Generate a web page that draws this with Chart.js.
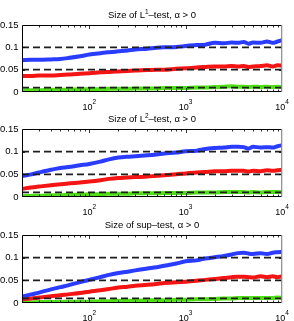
<!DOCTYPE html>
<html><head><meta charset="utf-8">
<script src="https://cdn.jsdelivr.net/npm/chart.js@4"></script>
<style>
html,body{margin:0;padding:0;background:#fff;width:294px;height:321px;overflow:hidden;position:relative}
canvas{position:absolute;left:0}
</style></head><body>
<canvas id="c1" width="294" height="110" style="top:0px"></canvas>
<canvas id="c2" width="294" height="110" style="top:105px"></canvas>
<canvas id="c3" width="294" height="111" style="top:210px"></canvas>
<script>
// ---- data ----
const sampleSizes = [20, 25, 30, 40, 50, 60, 80, 100, 130, 160, 200, 250, 300, 400, 500, 600, 800, 1000, 1300, 1600, 2000, 2500, 3000, 3500, 4000, 4500, 5000, 6000, 7000, 8000, 9000, 10000];

const l1Blue  = [0.071,0.072,0.072,0.073,0.074,0.076,0.080,0.084,0.087,0.089,0.091,0.093,0.095,0.097,0.099,0.100,0.101,0.103,0.105,0.106,0.110,0.109,0.111,0.110,0.112,0.108,0.111,0.110,0.113,0.110,0.113,0.116];
const l1Red   = [0.036,0.036,0.037,0.037,0.038,0.039,0.041,0.042,0.044,0.045,0.046,0.047,0.048,0.049,0.050,0.050,0.052,0.053,0.055,0.056,0.057,0.057,0.058,0.057,0.058,0.056,0.057,0.058,0.060,0.057,0.060,0.059];
const l1Green = [0.004,0.004,0.004,0.005,0.005,0.005,0.006,0.006,0.006,0.007,0.007,0.007,0.008,0.008,0.008,0.009,0.009,0.009,0.010,0.010,0.011,0.012,0.013,0.012,0.012,0.011,0.012,0.011,0.012,0.011,0.012,0.011];

const l2Blue  = [0.046,0.050,0.054,0.060,0.064,0.066,0.070,0.073,0.078,0.083,0.087,0.089,0.090,0.092,0.094,0.096,0.098,0.101,0.102,0.106,0.108,0.109,0.111,0.111,0.110,0.107,0.111,0.109,0.110,0.109,0.112,0.114];
const l2Red   = [0.018,0.021,0.023,0.026,0.028,0.030,0.032,0.034,0.037,0.040,0.042,0.043,0.044,0.045,0.047,0.048,0.050,0.052,0.054,0.055,0.057,0.057,0.058,0.058,0.058,0.056,0.058,0.057,0.059,0.058,0.059,0.060];
const l2Green = [0.002,0.003,0.003,0.004,0.004,0.005,0.005,0.006,0.006,0.007,0.007,0.007,0.008,0.008,0.008,0.009,0.009,0.009,0.010,0.010,0.010,0.011,0.011,0.011,0.011,0.010,0.011,0.010,0.011,0.011,0.011,0.011];

const supBlue  = [0.014,0.019,0.023,0.030,0.035,0.039,0.046,0.051,0.057,0.062,0.066,0.069,0.072,0.076,0.079,0.082,0.087,0.092,0.094,0.098,0.101,0.104,0.107,0.110,0.111,0.109,0.108,0.110,0.108,0.111,0.112,0.113];
const supRed   = [0.008,0.010,0.012,0.015,0.017,0.019,0.022,0.025,0.028,0.031,0.034,0.036,0.038,0.040,0.042,0.044,0.046,0.047,0.049,0.051,0.053,0.055,0.057,0.058,0.058,0.057,0.056,0.059,0.057,0.059,0.057,0.059];
const supGreen = [0.001,0.001,0.002,0.002,0.002,0.003,0.003,0.003,0.004,0.004,0.005,0.005,0.005,0.006,0.006,0.006,0.007,0.007,0.008,0.008,0.009,0.010,0.010,0.011,0.011,0.011,0.011,0.011,0.011,0.011,0.012,0.011];

const refLevels = [0.1, 0.05, 0.01];
const yTicks = [0, 0.05, 0.1, 0.15];
const xTickExponents = [2, 3, 4];
const titleL1  = ["Size of L", "1", "–test, α > 0"];
const titleL2  = ["Size of L", "2", "–test, α > 0"];
const titleSup = ["Size of sup–test, α > 0", "", ""];

// ---- drawing ----
const FONT = "'Liberation Sans', Arial, Helvetica, sans-serif";
const COLORS = ['#2a3cff', '#f51414', '#4ee014'];

function deco(title) {
  return {
    id: 'deco',
    afterDatasetsDraw(chart) {
      const {ctx, chartArea: a, scales: {x, y}} = chart;
      ctx.save();
      ctx.strokeStyle = '#000';
      ctx.lineWidth = 0.8;
      // minor/major ticks on x (inward)
      for (let e = 1; e <= 4; e++) {
        for (let m = 1; m <= 9; m++) {
          const v = m * Math.pow(10, e);
          if (v <= 20 || v >= 10000) continue;
          const px = Math.round(x.getPixelForValue(v)) + 0.5;
          const len = m === 1 ? 4 : 2.5;
          ctx.beginPath();
          ctx.moveTo(px, a.top); ctx.lineTo(px, a.top + len);
          ctx.moveTo(px, a.bottom); ctx.lineTo(px, a.bottom - len);
          ctx.stroke();
        }
      }
      // y ticks (inward)
      yTicks.forEach(v => {
        if (v === 0 || v === 0.15) return;
        const py = Math.round(y.getPixelForValue(v)) + 0.5;
        ctx.beginPath();
        ctx.moveTo(a.left, py); ctx.lineTo(a.left + 3, py);
        ctx.moveTo(a.right, py); ctx.lineTo(a.right - 3, py);
        ctx.stroke();
      });
      // box
      ctx.lineWidth = 1;
      ctx.beginPath();
      ctx.moveTo(a.left + 0.5, a.bottom); ctx.lineTo(a.left + 0.5, a.top + 0.5);
      ctx.lineTo(a.right, a.top + 0.5);
      ctx.moveTo(a.left, a.bottom - 0.5); ctx.lineTo(a.right, a.bottom - 0.5);
      ctx.stroke();
      ctx.strokeStyle = '#8a8a8a';
      ctx.lineWidth = 1.2;
      ctx.beginPath();
      ctx.moveTo(a.right - 0.3, a.top); ctx.lineTo(a.right - 0.3, a.bottom);
      ctx.stroke();
      ctx.restore();
    },
    afterDraw(chart) {
      const {ctx, chartArea: a, scales: {x}} = chart;
      ctx.save();
      ctx.fillStyle = '#000';
      ctx.textBaseline = 'alphabetic';
      // title with optional superscript
      const big = '9.5px ' + FONT, small = '6.5px ' + FONT;
      ctx.font = big; const w0 = ctx.measureText(title[0]).width;
      const w2 = ctx.measureText(title[2]).width;
      ctx.font = small; const w1 = ctx.measureText(title[1]).width;
      const tw = w0 + w1 + w2;
      let tx = (a.left + a.right) / 2 - tw / 2;
      const ty = a.top - 7.5;
      ctx.textAlign = 'left';
      ctx.font = big; ctx.fillText(title[0], tx, ty);
      ctx.font = small; ctx.fillText(title[1], tx + w0, ty - 4);
      ctx.font = big; ctx.fillText(title[2], tx + w0 + w1, ty);
      // x tick labels 10^k
      xTickExponents.forEach(k => {
        const px = x.getPixelForValue(Math.pow(10, k));
        ctx.font = '9px ' + FONT; const bw = ctx.measureText('10').width;
        ctx.font = '6.5px ' + FONT; const ew = ctx.measureText(String(k)).width;
        const sx = px - (bw + ew) / 2;
        const by = a.bottom + 17.5;
        ctx.font = '9px ' + FONT; ctx.fillText('10', sx, by);
        ctx.font = '6.5px ' + FONT; ctx.fillText(String(k), sx + bw, by - 6);
      });
      ctx.restore();
    }
  };
}

function makeChart(id, blue, red, green, title, padTop) {
  const pts = arr => sampleSizes.map((n, i) => ({x: n, y: arr[i]}));
  const refSets = refLevels.map(l => ({
    data: [{x: sampleSizes[0], y: l}, {x: sampleSizes[sampleSizes.length - 1], y: l}],
    borderColor: '#1e1e1e', borderWidth: 1.7, borderDash: [7, 4],
    pointRadius: 0, clip: 0, tension: 0
  }));
  const series = [blue, red, green].map((arr, i) => ({
    data: pts(arr), borderColor: COLORS[i], borderWidth: 4,
    pointRadius: 0, clip: 0, cubicInterpolationMode: 'monotone',
    borderCapStyle: 'round', borderJoinStyle: 'round'
  }));
  return new Chart(document.getElementById(id), {
    type: 'line',
    data: {datasets: refSets.concat(series)},
    options: {
      responsive: false, animation: false,
      layout: {padding: {top: padTop, right: 12, left: 0, bottom: 0}},
      plugins: {legend: {display: false}, tooltip: {enabled: false}, title: {display: false}},
      scales: {
        x: {
          type: 'logarithmic', min: 20, max: 10000,
          grid: {display: false}, border: {display: false},
          ticks: {display: false},
          afterFit(s) { s.height = 18; }
        },
        y: {
          type: 'linear', min: 0, max: 0.15,
          grid: {display: false, drawTicks: false}, border: {display: false},
          afterBuildTicks(s) { s.ticks = yTicks.map(v => ({value: v})); },
          ticks: {
            padding: 3.5, color: '#000',
            font: {family: FONT, size: 9.5},
            callback: v => String(Math.round(v * 100) / 100)
          },
          afterFit(s) { s.width = 22; }
        }
      }
    },
    plugins: [deco(title)]
  });
}

makeChart('c1', l1Blue, l1Red, l1Green, titleL1, 25);
makeChart('c2', l2Blue, l2Red, l2Green, titleL2, 24);
makeChart('c3', supBlue, supRed, supGreen, titleSup, 25);
</script>
</body></html>
